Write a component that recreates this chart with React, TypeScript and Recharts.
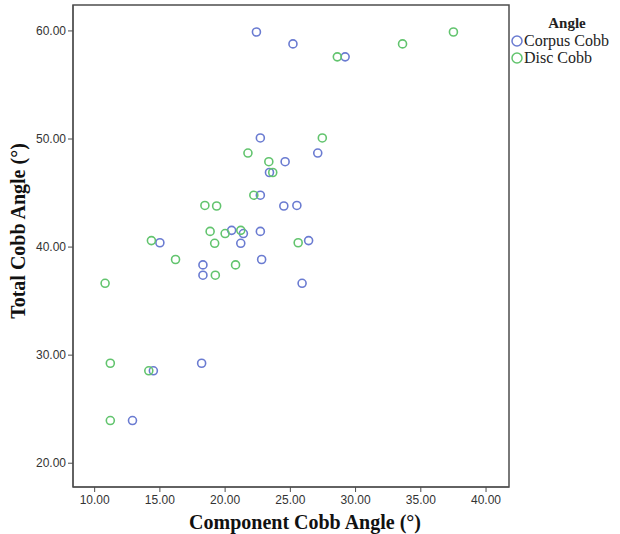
import React from "react";
import { ScatterChart, Scatter, XAxis, YAxis, ReferenceArea, Legend, Label } from "recharts";

// Corpus Cobb (component angle vs total angle)
const corpusX = [22.4, 25.2, 29.2, 22.7, 27.1, 24.6, 23.4, 22.7, 24.5, 25.5, 20.5, 21.4, 22.7, 15.0, 21.2, 26.4, 22.8, 18.3, 18.3, 25.9, 18.2, 14.5, 12.9];
const corpusY = [59.9, 58.8, 57.6, 50.1, 48.7, 47.9, 46.9, 44.8, 43.8, 43.85, 41.55, 41.25, 41.45, 40.4, 40.35, 40.6, 38.85, 38.35, 37.4, 36.65, 29.25, 28.55, 23.95];

// Disc Cobb
const discX = [37.5, 33.6, 28.6, 27.45, 21.75, 23.35, 23.65, 22.2, 18.45, 19.35, 18.85, 20.0, 21.2, 14.35, 19.2, 25.6, 16.2, 20.8, 19.25, 10.8, 11.2, 14.15, 11.2];
const discY = [59.9, 58.8, 57.6, 50.1, 48.7, 47.9, 46.9, 44.8, 43.85, 43.8, 41.45, 41.25, 41.55, 40.6, 40.35, 40.4, 38.85, 38.35, 37.4, 36.65, 29.25, 28.55, 23.95];

const xTicks = [10, 15, 20, 25, 30, 35, 40];
const yTicks = [20, 30, 40, 50, 60];
const xDomain = [8.34, 41.76];
const yDomain = [17.8, 62.4];

const BLUE = "#6a7bd1";
const GREEN = "#62c46e";
const FRAME = "#4d4d4d";

const corpusData = corpusX.map((x, i) => ({ x, y: corpusY[i] }));
const discData = discX.map((x, i) => ({ x, y: discY[i] }));

const ring = (color: string) => (props: any) => (
  <circle cx={props.cx} cy={props.cy} r={4} fill="none" stroke={color} strokeWidth={1.6} />
);

const LegendBox = ({ payload }: any) => (
  <div style={{ fontFamily: "'Liberation Serif', serif", color: "#222", paddingLeft: 2 }}>
    <div style={{ fontWeight: "bold", fontSize: 15, textAlign: "center", width: 100, marginLeft: 6, lineHeight: "18px" }}>Angle</div>
    {(payload || []).map((p: any) => (
      <div key={p.value} style={{ display: "flex", alignItems: "center", fontSize: 16, lineHeight: "17px" }}>
        <svg width={12} height={12} style={{ marginRight: 1 }}>
          <circle cx={6} cy={6} r={5} fill="none" stroke={p.color} strokeWidth={1.5} />
        </svg>
        {p.value}
      </div>
    ))}
  </div>
);

export default function App() {
  const tickStyle = { fontSize: 12, fill: "#333", fontFamily: "'Liberation Sans', Arial, sans-serif" };
  return (
    <div style={{ position: "absolute", left: 0, top: 0, background: "#fff" }}>
      <ScatterChart width={620} height={534} margin={{ top: 5, right: 0, left: 0, bottom: 0 }}>
        <ReferenceArea x1={xDomain[0]} x2={xDomain[1]} y1={yDomain[0]} y2={yDomain[1]} fill="none" stroke={FRAME} strokeWidth={1.5} fillOpacity={0} />
        <XAxis
          type="number"
          dataKey="x"
          domain={xDomain}
          ticks={xTicks}
          allowDataOverflow
          height={47}
          tick={tickStyle}
          tickFormatter={(v) => v.toFixed(2)}
          stroke={FRAME}
          tickSize={5}
          tickMargin={3}
        >
          <Label
            content={() => (
              <text x={305} y={529} textAnchor="middle" fontFamily="'Liberation Serif', serif" fontWeight="bold" fontSize={20} fill="#111">
                Component Cobb Angle (°)
              </text>
            )}
          />
        </XAxis>
        <YAxis
          type="number"
          dataKey="y"
          domain={yDomain}
          ticks={yTicks}
          allowDataOverflow
          width={73}
          tick={tickStyle}
          tickFormatter={(v) => v.toFixed(2)}
          stroke={FRAME}
          tickSize={5}
          tickMargin={2}
        >
          <Label
            content={() => (
              <text x={25} y={231} transform="rotate(-90 25 231)" textAnchor="middle" fontFamily="'Liberation Serif', serif" fontWeight="bold" fontSize={20} fill="#111">
                Total Cobb Angle (°)
              </text>
            )}
          />
        </YAxis>
        <Legend
          layout="vertical"
          verticalAlign="top"
          align="right"
          content={<LegendBox />}
          wrapperStyle={{ top: 14, left: 509, width: 111 }}
        />
        <Scatter name="Corpus Cobb" data={corpusData} fill={BLUE} stroke={BLUE} shape={ring(BLUE)} isAnimationActive={false} />
        <Scatter name="Disc Cobb" data={discData} fill={GREEN} stroke={GREEN} shape={ring(GREEN)} isAnimationActive={false} />
      </ScatterChart>
    </div>
  );
}
